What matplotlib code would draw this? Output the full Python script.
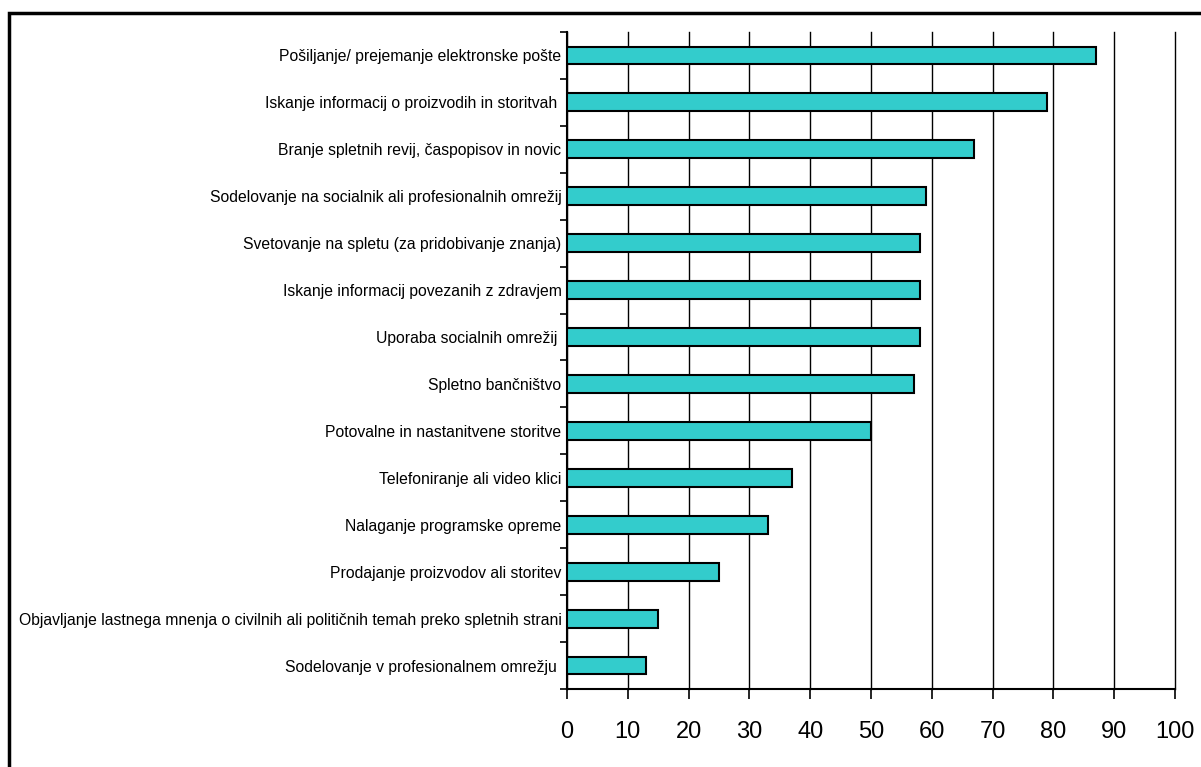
import matplotlib
matplotlib.use("Agg")
import matplotlib.pyplot as plt
from matplotlib.patches import Rectangle
from matplotlib.ticker import FixedLocator, NullFormatter

# deleži uporabnikov interneta po dejavnostih (%)
dejavnosti = [
    "Pošiljanje/ prejemanje elektronske pošte",
    "Iskanje informacij o proizvodih in storitvah ",
    "Branje spletnih revij, časpopisov in novic",
    "Sodelovanje na socialnik ali profesionalnih omrežij",
    "Svetovanje na spletu (za pridobivanje znanja)",
    "Iskanje informacij povezanih z zdravjem",
    "Uporaba socialnih omrežij ",
    "Spletno bančništvo",
    "Potovalne in nastanitvene storitve",
    "Telefoniranje ali video klici",
    "Nalaganje programske opreme",
    "Prodajanje proizvodov ali storitev",
    "Objavljanje lastnega mnenja o civilnih ali političnih temah preko spletnih strani",
    "Sodelovanje v profesionalnem omrežju ",
]
odstotki = [87, 79, 67, 59, 58, 58, 58, 57, 50, 37, 33, 25, 15, 13]
x_oznake = [0, 10, 20, 30, 40, 50, 60, 70, 80, 90, 100]

plt.rcParams['font.family'] = ['Liberation Sans', 'DejaVu Sans']

fig = plt.figure(figsize=(12.01, 7.67), dpi=100)
ax = fig.add_axes([0.4721, 0.1017, 0.5063, 0.8566])

n = len(odstotki)
pos = list(range(n))
ax.barh(pos, odstotki, height=0.38, color='#33CCCC', edgecolor='black',
        linewidth=1.5, zorder=3)

ax.set_xlim(0, 100)
ax.set_ylim(n - 0.5, -0.5)
ax.set_xticks(x_oznake)
ax.set_xticklabels([str(v) for v in x_oznake], fontsize=17)
ax.grid(axis='x', color='black', linewidth=1.0, zorder=0)
for gl in ax.get_xgridlines():
    gl.set_clip_on(False)

# imena kategorij kot besedilo levo od osi
ax.set_yticks(pos)
ax.set_yticklabels(dejavnosti, fontsize=11.3)
ax.tick_params(axis='y', length=0, pad=4)
# kratke oznake med kategorijami
ax.yaxis.set_minor_locator(FixedLocator([i - 0.5 for i in range(n + 1)]))
ax.yaxis.set_minor_formatter(NullFormatter())
ax.tick_params(axis='y', which='minor', length=5, width=1.2, direction='out')
ax.tick_params(axis='x', length=7, width=1.2, direction='out', pad=16)

for s in ['top', 'right']:
    ax.spines[s].set_visible(False)
for s in ['left', 'bottom']:
    ax.spines[s].set_linewidth(1.5)

# okvir okrog grafa
fig.patches.append(Rectangle((9 / 1201, -0.1), 1.2, 1.1 - 13 / 767,
                             transform=fig.transFigure, fill=False,
                             edgecolor='black', linewidth=2.5))

fig.savefig("out.png", dpi=100)
